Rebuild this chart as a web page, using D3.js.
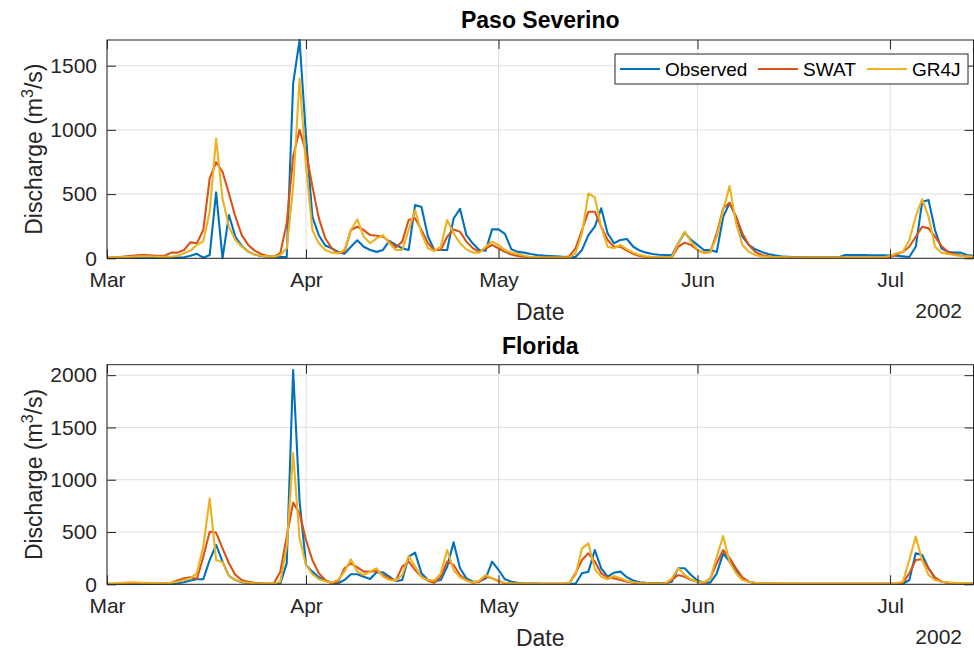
<!DOCTYPE html>
<html>
<head>
<meta charset="utf-8">
<script src="https://cdn.jsdelivr.net/npm/d3@7"></script>
<style>
  html, body { margin: 0; padding: 0; background: #fff; }
  svg { display: block; font-family: "Liberation Sans", Arial, Helvetica, sans-serif; }
</style>
</head>
<body>
<svg id="chart" width="974" height="650"></svg>
<script>
// ---------------- DATA (daily discharge, m3/s, from 2002-03-01) ----------------
const startDate = "2002-03-01";
const endDate = "2002-07-14";
const seriesNames = ["Observed", "SWAT", "GR4J"];
const stationNames = ["Paso Severino", "Florida"];
const monthTicks = ["2002-03-01", "2002-04-01", "2002-05-01", "2002-06-01", "2002-07-01"];
const yTicksPS = [0, 500, 1000, 1500];
const yTicksFL = [0, 500, 1000, 1500, 2000];
const yMaxPS = 1700;
const yMaxFL = 2100;
const yearLabel = "2002";

const psObserved = [
  2,2,2,2,2,3,3,3,3,3,
  4,5,8,20,35,5,25,513,0,337,
  168,96,52,30,18,12,10,10,10,1360,
  1700,950,323,180,100,78,50,35,90,140,
  90,65,50,65,135,105,78,65,415,400,
  170,65,65,65,310,385,180,115,65,60,
  225,225,190,70,50,44,34,26,21,18,
  15,12,10,10,65,181,246,389,194,117,
  143,150,90,60,44,34,28,26,23,117,
  200,143,104,65,65,50,324,430,324,168,
  104,70,50,34,23,15,12,10,10,8,
  8,8,8,8,8,25,25,25,25,24,
  24,23,22,20,15,10,90,440,453,220,
  78,50,44,44,26,20
];
const psSWAT = [
  5,8,10,15,20,25,25,22,20,20,
  44,44,65,124,117,220,622,749,674,505,
  324,181,104,60,34,18,13,39,272,790,
  1000,830,560,313,158,78,39,50,220,246,
  220,181,176,168,130,85,130,298,311,220,
  117,65,65,168,225,207,130,78,50,78,
  104,78,50,30,18,12,8,6,5,5,
  5,5,15,78,220,363,363,246,143,90,
  90,60,34,18,10,8,6,6,8,90,
  122,104,65,44,50,194,389,433,324,194,
  104,50,26,15,10,8,6,5,5,5,
  5,5,5,5,5,5,5,5,5,5,
  5,5,10,30,50,90,168,246,233,168,
  96,50,34,22,15,12
];
const psGR4J = [
  5,6,8,10,12,15,15,14,12,12,
  12,20,39,60,104,132,363,933,466,246,
  143,90,52,30,20,15,12,26,78,557,
  1400,720,220,117,65,44,39,65,220,303,
  168,117,155,181,117,65,65,220,376,194,
  78,57,90,298,194,117,70,44,44,90,
  130,104,65,44,34,20,10,8,6,5,
  5,5,5,39,194,505,474,246,90,78,
  104,70,44,26,15,10,8,8,10,117,
  207,130,65,39,50,168,376,562,274,104,
  50,26,15,12,10,8,8,6,6,5,
  5,5,5,5,5,5,5,5,5,5,
  5,8,18,39,50,143,324,461,324,90,
  44,34,26,18,15,12
];
const flObserved = [
  2,2,2,2,2,2,2,3,3,3,
  5,10,20,36,48,48,232,376,217,80,
  40,20,12,8,5,5,5,5,200,2050,
  800,185,121,67,35,16,10,41,96,96,
  73,51,115,115,73,29,41,264,303,105,
  41,29,41,169,401,153,57,25,25,57,
  217,137,48,25,15,10,8,6,5,5,
  5,5,5,5,105,121,328,153,73,111,
  121,67,35,20,15,12,10,10,25,153,
  153,89,35,16,16,105,296,217,137,57,
  25,12,8,6,5,5,5,5,5,5,
  5,5,5,5,5,5,5,5,5,5,
  5,5,5,5,5,41,296,280,153,57,
  25,15,10,8,6,5
];
const flSWAT = [
  5,5,6,8,10,10,10,10,10,12,
  15,36,57,67,51,264,503,494,344,201,
  90,41,25,15,10,8,10,120,456,781,
  679,424,232,105,41,10,25,153,201,162,
  121,121,127,89,57,35,169,217,137,73,
  35,16,73,217,185,89,41,16,25,73,
  57,32,10,6,5,5,5,5,5,5,
  5,5,10,105,232,296,217,105,67,57,
  41,25,15,10,8,6,6,6,41,89,
  73,41,25,10,57,201,328,250,153,67,
  25,12,8,8,6,6,5,5,5,5,
  5,5,5,5,5,5,5,5,5,5,
  5,5,5,5,16,105,232,239,153,67,
  25,15,10,8,6,5
];
const flGR4J = [
  5,8,12,16,20,16,14,12,10,10,
  15,25,41,57,105,360,822,232,210,80,
  41,25,15,10,8,8,8,25,360,1253,
  440,185,96,48,29,16,41,121,239,121,
  89,121,153,73,41,35,89,271,169,67,
  41,35,105,328,137,67,35,16,35,89,
  57,25,15,10,8,6,5,5,5,5,
  5,5,8,89,344,392,143,73,48,80,
  57,32,20,12,10,8,8,8,57,153,
  89,48,25,16,57,264,462,210,105,41,
  25,15,10,10,8,8,8,8,8,8,
  8,8,8,8,8,8,8,8,8,8,
  8,8,8,10,25,232,456,232,89,41,
  25,18,14,12,10,10
];

// ---------------- STYLE / LAYOUT ----------------
const colors = ["#0072BD", "#D95319", "#EDB120"];
const textColor = "#262626";
const gridColor = "#dfdfdf";
const X0 = 107, X1 = 973.5;
const tickLen = 9;
const tickFont = 21, labelFont = 23, legendFont = 19;

const panels = [
  { name: stationNames[0], top: 40, bottom: 258.3, yMax: yMaxPS, yTicks: yTicksPS,
    series: [psObserved, psSWAT, psGR4J], legend: true, titleY: 27.5 },
  { name: stationNames[1], top: 364.7, bottom: 584.3, yMax: yMaxFL, yTicks: yTicksFL,
    series: [flObserved, flSWAT, flGR4J], legend: false, titleY: 354 }
];

const parse = d3.utcParse("%Y-%m-%d");
const t0 = parse(startDate), t1 = parse(endDate);
const monthDates = monthTicks.map(parse);
const x = d3.scaleUtc().domain([t0, t1]).range([X0, X1]);
const fmtMonth = d3.utcFormat("%b");

const svg = d3.select("#chart");
const defs = svg.append("defs");

panels.forEach((p, pi) => {
  const y = d3.scaleLinear().domain([0, p.yMax]).range([p.bottom, p.top]);
  const g = svg.append("g");

  // grid
  g.append("g").selectAll("line.hg").data(p.yTicks).join("line")
    .attr("x1", X0).attr("x2", X1)
    .attr("y1", d => y(d)).attr("y2", d => y(d))
    .attr("stroke", gridColor).attr("stroke-width", 1);
  g.append("g").selectAll("line.vg").data(monthDates).join("line")
    .attr("x1", d => x(d)).attr("x2", d => x(d))
    .attr("y1", p.top).attr("y2", p.bottom)
    .attr("stroke", gridColor).attr("stroke-width", 1);

  // clip
  const cid = "clip" + pi;
  defs.append("clipPath").attr("id", cid).append("rect")
    .attr("x", X0).attr("y", p.top - 1).attr("width", X1 - X0).attr("height", p.bottom - p.top + 2);

  // lines
  const line = d3.line()
    .x((d, i) => x(d3.utcDay.offset(t0, i)))
    .y(d => y(d));
  const lg = g.append("g").attr("clip-path", `url(#${cid})`);
  p.series.forEach((s, si) => {
    lg.append("path").datum(s)
      .attr("d", line)
      .attr("fill", "none")
      .attr("stroke", colors[si])
      .attr("stroke-width", 2.1)
      .attr("stroke-linejoin", "round");
  });

  // axes
  const axB = d3.axisBottom(x).tickValues(monthDates).tickFormat(fmtMonth)
    .tickSizeInner(-tickLen).tickSizeOuter(0).tickPadding(14);
  const axT = d3.axisTop(x).tickValues(monthDates).tickFormat("")
    .tickSizeInner(-tickLen).tickSizeOuter(0);
  const axL = d3.axisLeft(y).tickValues(p.yTicks).tickFormat(d3.format("d"))
    .tickSizeInner(-tickLen).tickSizeOuter(0).tickPadding(10);
  const axR = d3.axisRight(y).tickValues(p.yTicks).tickFormat("")
    .tickSizeInner(-tickLen).tickSizeOuter(0);

  const styleAxis = sel => {
    sel.select(".domain").remove();
    sel.selectAll(".tick line").attr("stroke", textColor).attr("stroke-width", 1);
    sel.selectAll(".tick text").attr("fill", textColor)
      .attr("font-size", tickFont).attr("font-family", "Liberation Sans, Arial, sans-serif");
  };
  g.append("g").attr("transform", `translate(0,${p.bottom})`).call(axB).call(styleAxis);
  g.append("g").attr("transform", `translate(0,${p.top})`).call(axT).call(styleAxis);
  g.append("g").attr("transform", `translate(${X0},0)`).call(axL).call(styleAxis);
  g.append("g").attr("transform", `translate(${X1},0)`).call(axR).call(styleAxis);

  // box
  g.append("rect").attr("x", X0).attr("y", p.top)
    .attr("width", X1 - X0).attr("height", p.bottom - p.top)
    .attr("fill", "none").attr("stroke", textColor).attr("stroke-width", 1);

  // title
  g.append("text").attr("x", (X0 + X1) / 2).attr("y", p.titleY)
    .attr("text-anchor", "middle").attr("font-weight", "bold")
    .attr("font-size", labelFont).attr("fill", "#000").text(p.name);

  // x label + year
  g.append("text").attr("x", (X0 + X1) / 2).attr("y", p.bottom + 62)
    .attr("text-anchor", "middle").attr("font-size", labelFont).attr("fill", textColor).text("Date");
  g.append("text").attr("x", 962).attr("y", p.bottom + 60)
    .attr("text-anchor", "end").attr("font-size", tickFont).attr("fill", textColor).text(yearLabel);

  // y label
  const yl = g.append("text")
    .attr("transform", `translate(42,${(p.top + p.bottom) / 2}) rotate(-90)`)
    .attr("text-anchor", "middle").attr("font-size", labelFont).attr("fill", textColor);
  yl.append("tspan").text("Discharge (m");
  yl.append("tspan").attr("dy", -9).attr("font-size", 16).text("3");
  yl.append("tspan").attr("dy", 9).text("/s)");

  // legend
  if (p.legend) {
    const lgx = 615, lgy = 54, lgw = 353, lgh = 30;
    const L = g.append("g");
    L.append("rect").attr("x", lgx).attr("y", lgy).attr("width", lgw).attr("height", lgh)
      .attr("fill", "#fff").attr("stroke", textColor).attr("stroke-width", 1);
    const itemX = [620, 758, 867];
    seriesNames.forEach((n, i) => {
      L.append("line").attr("x1", itemX[i]).attr("x2", itemX[i] + 40)
        .attr("y1", lgy + lgh / 2).attr("y2", lgy + lgh / 2)
        .attr("stroke", colors[i]).attr("stroke-width", 2);
      L.append("text").attr("x", itemX[i] + 45).attr("y", lgy + lgh / 2)
        .attr("dy", "0.35em").attr("font-size", legendFont).attr("fill", "#000").text(n);
    });
  }
});
</script>
</body>
</html>
